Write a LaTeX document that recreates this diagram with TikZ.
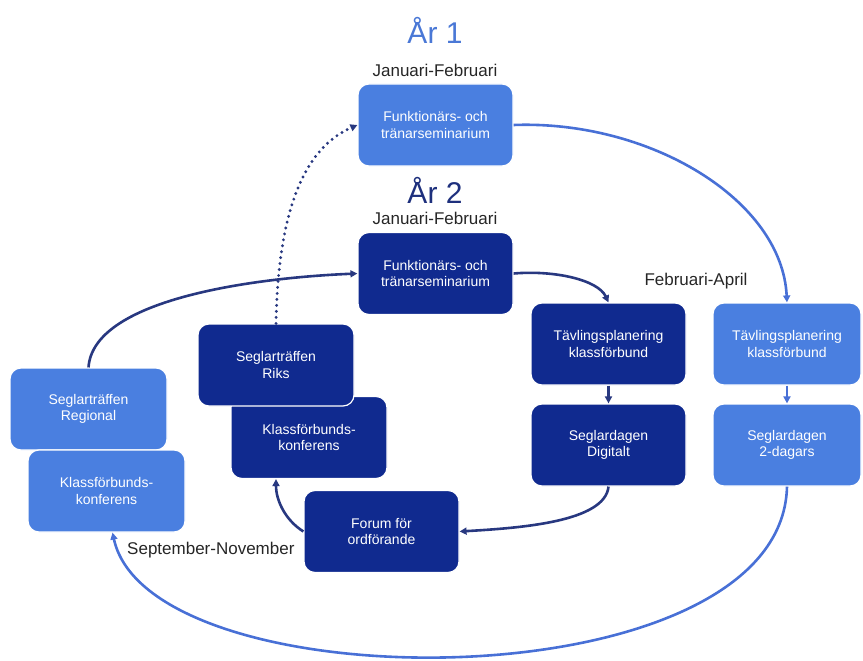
\documentclass[tikz,border=0pt]{standalone}
\usepackage{fontspec}
\setmainfont{Liberation Sans}
\usetikzlibrary{arrows.meta}
\definecolor{clight}{RGB}{74,127,224}
\definecolor{cdark}{RGB}{16,42,143}
\definecolor{cdarkline}{RGB}{40,56,128}
\definecolor{clightline}{RGB}{72,112,214}
\definecolor{cyeartwo}{RGB}{30,48,125}
\definecolor{cyearone}{RGB}{74,120,214}
\begin{document}
\begin{tikzpicture}[x=1pt,y=-1pt,
  box/.style={rounded corners=11pt, draw=white, line width=1.2pt, text=white, align=center,
    font=\fontsize{14}{16.5}\selectfont, inner sep=0pt, minimum width=155pt, minimum height=82pt},
  boxL/.style={box, fill=clight},
  boxD/.style={box, fill=cdark},
  period/.style={font=\fontsize{17}{20}\selectfont, text=black!85},
  yearlbl/.style={font=\fontsize{30}{34}\selectfont},
  darkarrow/.style={draw=cdarkline, line width=2.6pt, -{Triangle[length=7pt,width=7pt]}},
  lightarrow/.style={draw=clightline, line width=2.6pt, -{Triangle[length=7pt,width=7pt]}},
  dotarrow/.style={draw=cdarkline, line width=3.2pt, line cap=round, dash pattern=on 0pt off 6pt,
    -{Triangle[length=7pt,width=7pt]}}
]
\useasboundingbox (0,0) rectangle (863,661);

% labels
\node[yearlbl, text=cyearone] (yearone) at (435,30) {År 1};
\node[period] (janone) at (435,70) {Januari-Februari};
\node[yearlbl, text=cyeartwo] (yeartwo) at (435,190) {År 2};
\node[period] (jantwo) at (435,218) {Januari-Februari};
\node[period] (febapr) at (696,281) {Februari-April};
\node[period, anchor=east] (sepnov) at (298,550) {September-November};

% boxes
\node[boxL] (y1) at (435.5,125) {Funktionärs- och\\tränarseminarium};
\node[boxD] (y2) at (435.5,273.5) {Funktionärs- och\\tränarseminarium};
\node[boxD] (tavD) at (608.5,344) {Tävlingsplanering\\klassförbund};
\node[boxD] (segD) at (608.5,445) {Seglardagen\\Digitalt};
\node[boxL, minimum width=148pt] (tavL) at (787,344) {Tävlingsplanering\\klassförbund};
\node[boxL, minimum width=148pt] (segL) at (787,445) {Seglardagen\\2-dagars};
\node[boxL, minimum width=157pt] (regL) at (88.5,409) {Seglarträffen\\Regional};
\node[boxL, minimum width=157pt] (klassL) at (106.5,491) {Klassförbunds-\\konferens};
\node[boxD, minimum width=156pt] (klassM) at (309,437.5) {Klassförbunds-\\konferens};
\node[boxD, minimum width=156pt] (riks) at (276,365) {Seglarträffen\\Riks};
\node[boxD] (forum) at (381.5,531.5) {Forum för\\ordförande};

% connectors
\draw[darkarrow] (regL.north) .. controls (93,300) and (250,278) .. (y2.west);
\draw[dotarrow] (riks.north) .. controls (278,220) and (300,150) .. (y1.west);
\draw[lightarrow] (y1.east) .. controls (650,120) and (782,200) .. (tavL.north);
\draw[darkarrow] (y2.east) .. controls (555,270) and (598,280) .. (tavD.north);
\draw[darkarrow] (tavD.south) -- (segD.north);
\draw[lightarrow] (tavL.south) -- (segL.north);
\draw[darkarrow] (segD.south) .. controls (605,522) and (520,528) .. (forum.east);
\draw[darkarrow] (forum.west) .. controls (285,520) and (276,500) .. (klassM.south -| riks.north);
\draw[lightarrow] (segL.south) .. controls (782,705) and (150,705) .. ([xshift=6pt]klassL.south);
\end{tikzpicture}
\end{document}
